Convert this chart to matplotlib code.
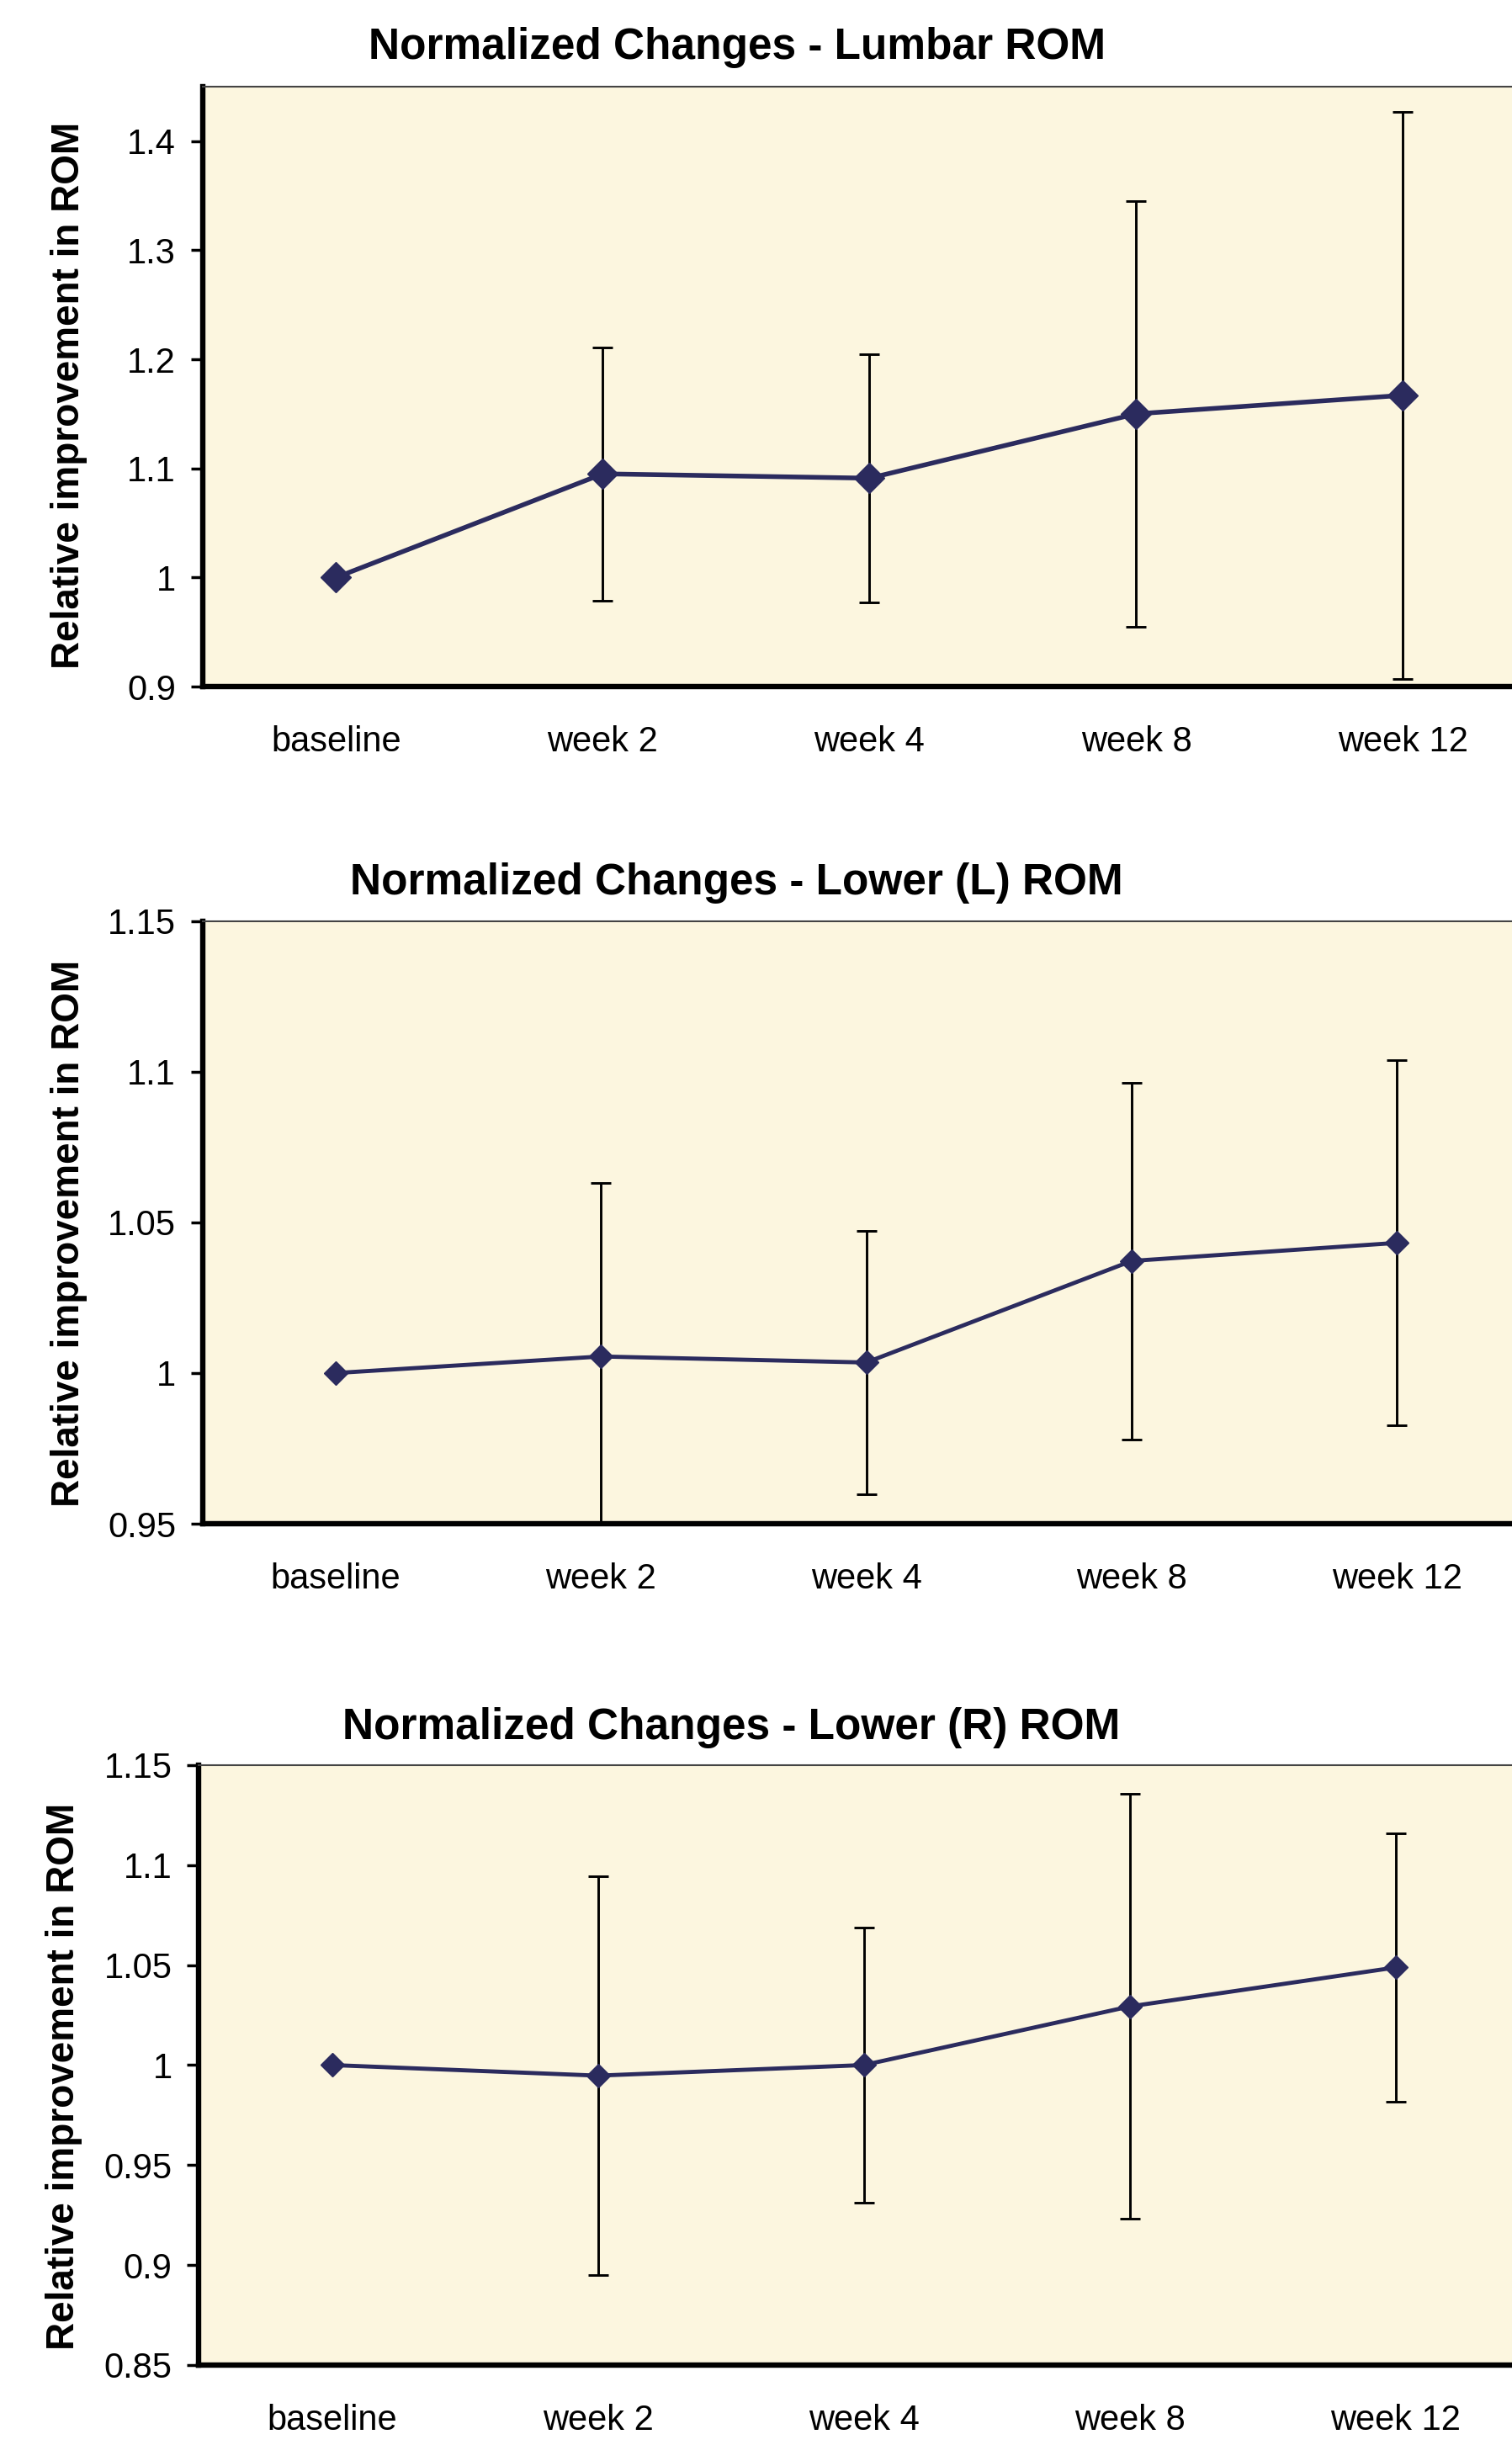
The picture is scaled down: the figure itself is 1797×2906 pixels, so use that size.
import matplotlib
matplotlib.use("Agg")
import matplotlib.pyplot as plt
from matplotlib.ticker import FuncFormatter, MultipleLocator

# Time points (x axis)
categorias = ['baseline', 'week 2', 'week 4', 'week 8', 'week 12']

# Lumbar ROM: mean and SD (baseline has no error bar)
lumbar_media = [1.0, 1.095, 1.091, 1.150, 1.167]
lumbar_dp = [0.0, 0.116, 0.114, 0.195, 0.260]

# Lower (L) ROM
lower_l_media = [1.0, 1.0055, 1.0035, 1.0372, 1.0432]
lower_l_dp = [0.0, 0.0575, 0.0438, 0.0592, 0.0606]

# Lower (R) ROM
lower_r_media = [1.0, 0.9947, 1.0, 1.0293, 1.0488]
lower_r_dp = [0.0, 0.0999, 0.0689, 0.1063, 0.0671]

titulos = ['Normalized Changes - Lumbar ROM',
           'Normalized Changes - Lower (L) ROM',
           'Normalized Changes - Lower (R) ROM']

COR_FUNDO = '#FCF6DF'
COR_LINHA = '#2B2B5E'


def formatar(v, pos):
    return f'{v:g}'


def desenhar(fig, pos, medias, dps, ylim, passo, titulo, titulo_xy, label_xy, ms, lw):
    ax = fig.add_axes(pos)
    ax.set_facecolor(COR_FUNDO)
    x = list(range(len(categorias)))

    # error bars only after baseline
    ax.errorbar(x[1:], medias[1:], yerr=dps[1:], fmt='none', ecolor='black',
                elinewidth=2.1, capsize=8.5, capthick=2.1, zorder=2)
    ax.plot(x, medias, color=COR_LINHA, linewidth=lw, marker='D',
            markersize=ms, markerfacecolor=COR_LINHA, markeredgecolor=COR_LINHA,
            zorder=3, clip_on=False)

    ax.set_xlim(-0.5, len(categorias) - 0.5)
    ax.set_ylim(*ylim)
    ax.yaxis.set_major_locator(MultipleLocator(passo))
    ax.yaxis.set_major_formatter(FuncFormatter(formatar))
    ax.set_xticks(x)
    ax.set_xticklabels(categorias)

    ax.tick_params(axis='x', length=0, pad=33, labelsize=30)
    ax.tick_params(axis='y', length=10, width=2.5, pad=13, labelsize=30, direction='out')

    ax.spines['left'].set_linewidth(4.6)
    ax.spines['bottom'].set_linewidth(4.6)
    ax.spines['top'].set_linewidth(1.5)
    ax.spines['top'].set_color('#444444')
    ax.spines['right'].set_visible(False)

    ax.set_ylabel('Relative improvement in ROM', fontsize=33, fontweight='bold')
    ax.yaxis.set_label_coords(*label_xy)

    fig.text(titulo_xy[0], titulo_xy[1], titulo, ha='center', va='center',
             fontsize=37, fontweight='bold')
    return ax


def main():
    plt.rcParams['font.family'] = ['Liberation Sans', 'DejaVu Sans']

    fig = plt.figure(figsize=(17.97, 29.06), dpi=100)
    fig.patch.set_facecolor('white')

    desenhar(fig, [0.1341, 0.7192, 0.8820, 0.2454], lumbar_media, lumbar_dp,
             (0.9, 1.45), 0.1, titulos[0], (0.4875, 0.9804), (-0.0864, 0.485), 18.5, 4.0)
    desenhar(fig, [0.1341, 0.3768, 0.8776, 0.2465], lower_l_media, lower_l_dp,
             (0.95, 1.15), 0.05, titulos[1], (0.4870, 0.6387), (-0.0869, 0.482), 14.5, 3.5)
    desenhar(fig, [0.1316, 0.0327, 0.8795, 0.2454], lower_r_media, lower_r_dp,
             (0.85, 1.15), 0.05, titulos[2], (0.4836, 0.2932), (-0.0876, 0.481), 14.5, 3.5)

    fig.savefig('out.png', dpi=100, facecolor='white')


if __name__ == "__main__":
    main()
